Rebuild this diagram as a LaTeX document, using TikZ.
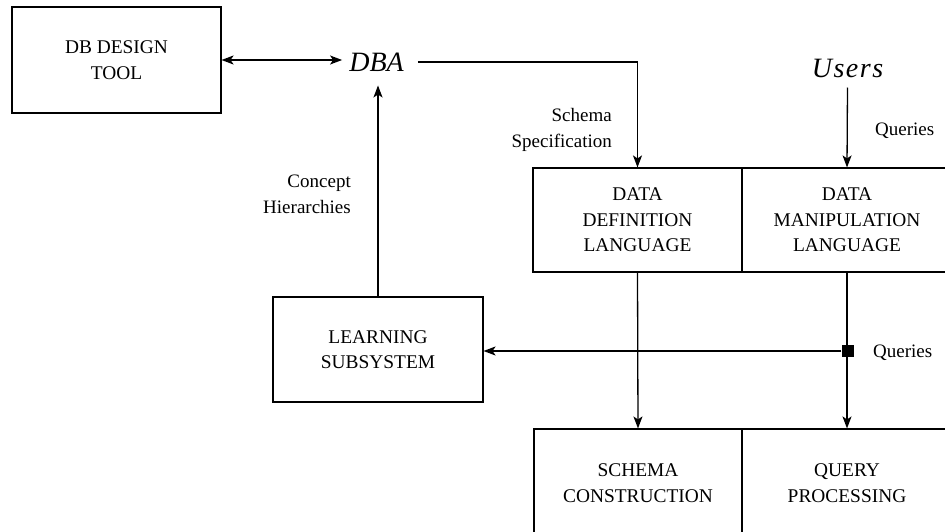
\documentclass[tikz,border=0pt]{standalone}
\usepackage{fontspec}
\setmainfont{Liberation Serif}
\usetikzlibrary{arrows.meta,calc}
\tikzset{
  box/.style={draw, line width=1.1pt, inner sep=0pt, align=center,
              font=\fontsize{19.4}{25.5}\selectfont},
  lbl/.style={inner sep=0pt, font=\fontsize{19}{26}\selectfont},
  big/.style={inner sep=0pt, font=\fontsize{28}{30}\selectfont\itshape},
  tip/.tip={Stealth[length=12pt,width=9pt,inset=3pt]},
  conn/.style={line width=1.3pt, -tip},
  conn2/.style={line width=1.3pt, tip-tip},
}
\begin{document}
\begin{tikzpicture}[x=1pt,y=-1pt]
\useasboundingbox (0,0) rectangle (945,532);

\node[box, minimum width=209pt, minimum height=106pt] (tool) at (116.5,60) {DB DESIGN\\TOOL};
\node[big, inner xsep=7pt, inner ysep=14pt] (dba) at (376.5,62) {DBA};
\node[big] (users) at (847.5,68) {U\kern1.5pt s\kern1.5pt e\kern1.5pt r\kern1.5pt s};

\node[box, minimum width=209pt, minimum height=104pt] (ddl) at (637.5,220) {DATA\\DEFINITION\\LANGUAGE};
\node[box, minimum width=210pt, minimum height=104pt] (dml) at (847,220) {DATA\\MANIPULATION\\LANGUAGE};

\node[box, minimum width=210pt, minimum height=105pt] (learn) at (378,349.5) {LEARNING\\SUBSYSTEM};

\node[box, minimum width=208pt, minimum height=108pt] (schema) at (638,483) {SCHEMA\\CONSTRUCTION};
\node[box, minimum width=210pt, minimum height=108pt] (query) at (847,483) {QUERY\\PROCESSING};

\node[lbl, anchor=east, align=right] (spec) at (612,130) {Schema\\Specification};
\node[lbl, anchor=east, align=right] (concept) at (351,194.5) {Concept\\Hierarchies};
\node[lbl, anchor=west] (q1) at (875,131) {Queries};
\node[lbl, anchor=west] (q2) at (873,353) {Queries};

% connectors
\draw[conn2] (tool.east) -- (tool.east -| dba.west);
\draw[conn, shorten <=7pt] (dba.east) -| (ddl.north);
\draw[conn] ($(users.south)+(0,10)$) -- (dml.north);
\draw[conn] (learn.north) -- (learn.north |- dba.south);
\draw[conn] (ddl.south) -- (schema.north);
\draw[conn] (dml.south) -- (query.north);
\node[fill=black, minimum size=12pt, inner sep=0pt] (sq) at (847.5,351) {};
\draw[conn] (sq.west) -- (sq.west -| learn.east);
\end{tikzpicture}
\end{document}
